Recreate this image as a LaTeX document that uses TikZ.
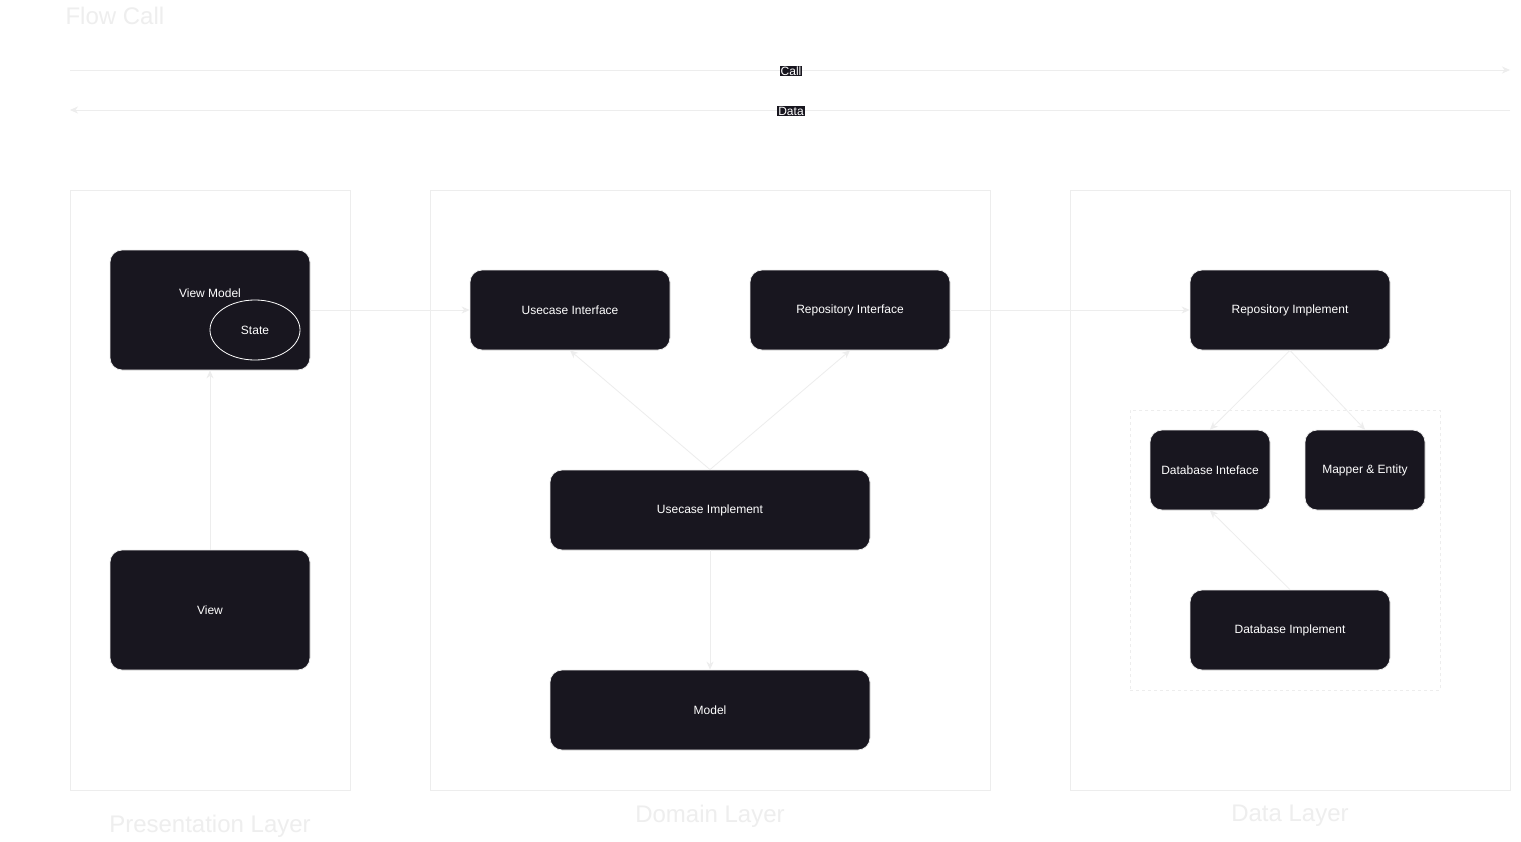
\documentclass[tikz,border=0pt]{standalone}
\usepackage{fontspec}
\setmainfont{Liberation Sans}
\usetikzlibrary{arrows.meta,shapes.geometric}
\definecolor{boxfill}{HTML}{18161F}
\definecolor{faint}{HTML}{EDEDED}
\definecolor{labelgray}{HTML}{EEEEEE}
\tikzset{
  block/.style={draw=faint, line width=0.8pt, fill=boxfill, rounded corners=12pt, text=white,
    font=\fontsize{12}{14}\selectfont, inner sep=0pt},
  layerbox/.style={draw=faint, line width=0.8pt},
  layertitle/.style={text=labelgray, font=\fontsize{24}{28}\selectfont},
  conn/.style={draw=faint, line width=0.8pt, -{Stealth[length=8pt,width=7pt]}},
  tag/.style={fill=boxfill, text=white, inner sep=1pt, font=\fontsize{12}{13}\selectfont},
}
\begin{document}
\begin{tikzpicture}[x=1pt,y=-1pt]
\useasboundingbox[fill=white] (0,0) rectangle (1521,841);

% title
\node[layertitle, anchor=west] (flowtitle) at (62,16) {Flow Call};

% flow arrows
\coordinate (callL) at (70,70);
\coordinate (callR) at (1510,70);
\coordinate (dataL) at (70,110);
\coordinate (dataR) at (1510,110);
\draw[conn] (callL) -- (callR);
\draw[conn] (dataR) -- (dataL);
\node[tag] (calltag) at (791,71) {Call};
\node[tag] (datatag) at (791,111) {Data};

% layer containers
\node[layerbox, minimum width=280pt, minimum height=600pt, anchor=north west, inner sep=0pt] (pres) at (70,190) {};
\node[layerbox, minimum width=560pt, minimum height=600pt, anchor=north west, inner sep=0pt] (dom) at (430,190) {};
\node[layerbox, minimum width=440pt, minimum height=600pt, anchor=north west, inner sep=0pt] (dat) at (1070,190) {};
\node[draw=faint, dashed, line width=0.8pt, minimum width=310pt, minimum height=280pt, anchor=north west, inner sep=0pt] (dbgroup) at (1130,410) {};

\node[layertitle] (prestitle) at (210,826) {Presentation Layer};
\node[layertitle] (domtitle) at (710,816) {Domain Layer};
\node[layertitle] (dattitle) at (1290,816) {Data Layer};

% presentation
\node[block, minimum width=200pt, minimum height=120pt] (vm) at (210,310) {};
\node[text=white, font=\fontsize{12}{14}\selectfont] (vmlabel) at (210,293) {View Model};
\node[draw=white, line width=0.8pt, ellipse, minimum width=90pt, minimum height=60pt, inner sep=0pt, text=white, font=\fontsize{12}{14}\selectfont] (state) at (255,330) {State};
\node[block, minimum width=200pt, minimum height=120pt] (view) at (210,610) {View};

% domain
\node[block, minimum width=200pt, minimum height=80pt] (ucif) at (570,310) {Usecase Interface};
\node[block, minimum width=200pt, minimum height=80pt] (repoif) at (850,310) {Repository Interface};
\node[block, minimum width=320pt, minimum height=80pt] (ucimpl) at (710,510) {Usecase Implement};
\node[block, minimum width=320pt, minimum height=80pt] (model) at (710,710) {Model};

% data
\node[block, minimum width=200pt, minimum height=80pt] (repoimpl) at (1290,310) {Repository Implement};
\node[block, minimum width=120pt, minimum height=80pt] (dbif) at (1210,470) {Database Inteface};
\node[block, minimum width=120pt, minimum height=80pt] (mapper) at (1365,470) {Mapper \& Entity};
\node[block, minimum width=200pt, minimum height=80pt] (dbimpl) at (1290,630) {Database Implement};

% connectors
\draw[conn] (view.north) -- (vm.south);
\draw[conn] (vm.east) -- (ucif.west);
\draw[conn] (repoif.east) -- (repoimpl.west);
\draw[conn] (ucimpl.north) -- (ucif.south);
\draw[conn] (ucimpl.north) -- (repoif.south);
\draw[conn] (ucimpl.south) -- (model.north);
\draw[conn] (repoimpl.south) -- (dbif.north);
\draw[conn] (repoimpl.south) -- (mapper.north);
\draw[conn] (dbimpl.north) -- (dbif.south);
\end{tikzpicture}
\end{document}
